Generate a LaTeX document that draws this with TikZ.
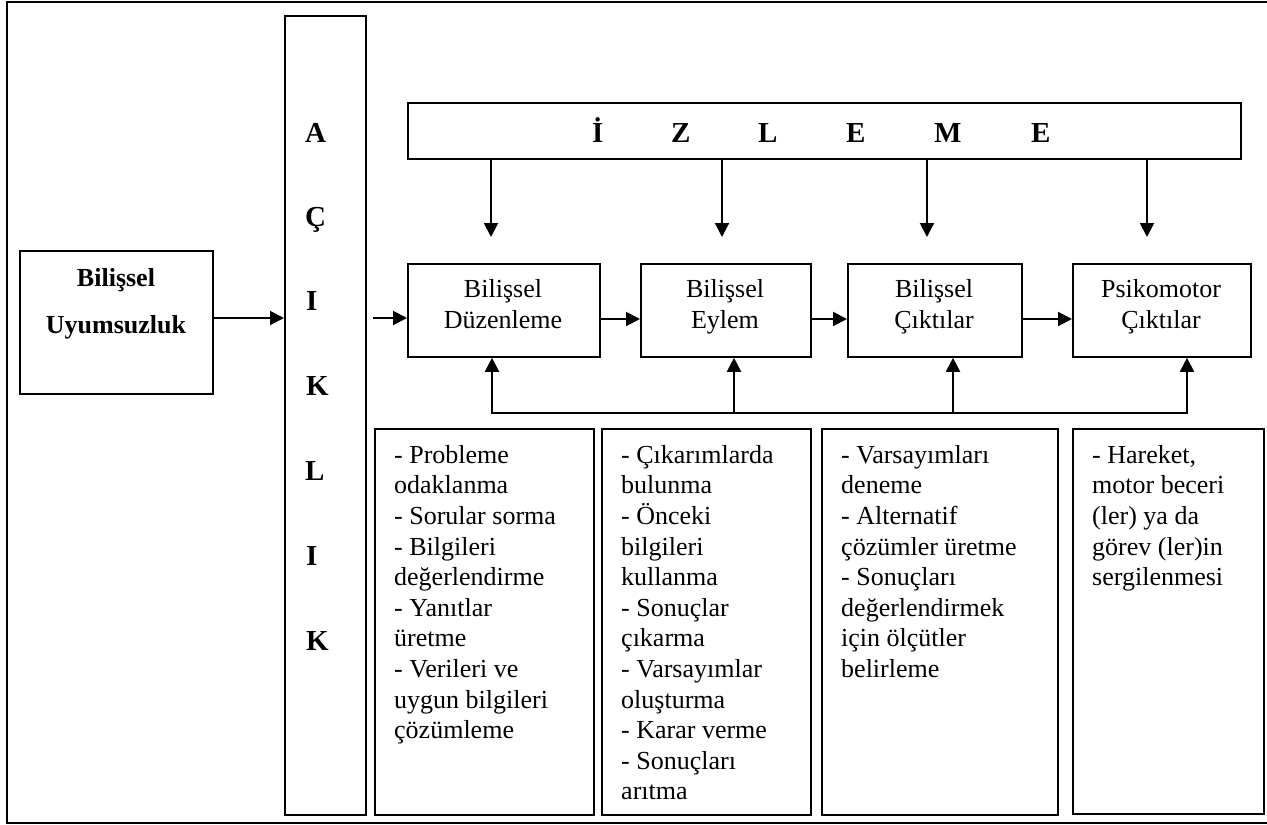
\documentclass[tikz,border=0pt]{standalone}
\usepackage{fontspec}
\setmainfont{Liberation Serif}
\usetikzlibrary{arrows.meta}
\begin{document}
\begin{tikzpicture}[x=1pt,y=-1pt,
  frame/.style={line width=1.8pt},
  box/.style={draw, line width=1.8pt, inner sep=0pt, anchor=north west},
  arr/.style={-{Triangle[length=14pt,width=14pt]}, line width=2pt},
  biarr/.style={{Triangle[length=14pt,width=14pt]}-{Triangle[length=14pt,width=14pt]}, line width=2pt},
  letter/.style={anchor=base west, inner sep=0pt, font=\fontsize{29}{34}\selectfont\bfseries},
  proctext/.style={anchor=north, inner sep=0pt, align=center, font=\fontsize{26}{31.5}\selectfont},
  listtext/.style={anchor=north west, inner sep=0pt, align=left, font=\fontsize{26}{30.6}\selectfont}]
\useasboundingbox (0,0) rectangle (1267,825);
% outer frame (right side cut off)
\draw[frame] (1267,2) -- (7,2) -- (7,823) -- (1267,823);

% boxes
\node[box, minimum width=193pt, minimum height=143pt] (bu) at (19,250) {};
\node[box, minimum width=81pt, minimum height=799pt] (ac) at (284,15) {};
\node[box, minimum width=833pt, minimum height=56pt] (iz) at (407,102) {};
\node[box, minimum width=192pt, minimum height=93pt] (b1) at (407,263) {};
\node[box, minimum width=170pt, minimum height=93pt] (b2) at (640,263) {};
\node[box, minimum width=174pt, minimum height=93pt] (b3) at (847,263) {};
\node[box, minimum width=178pt, minimum height=93pt] (b4) at (1072,263) {};
\node[box, minimum width=219pt, minimum height=386pt] (d1) at (374,428) {};
\node[box, minimum width=209pt, minimum height=386pt] (d2) at (601,428) {};
\node[box, minimum width=236pt, minimum height=386pt] (d3) at (821,428) {};
\node[box, minimum width=191pt, minimum height=385pt] (d4) at (1072,428) {};

% texts
\node[anchor=north, inner sep=0pt, align=center, font=\fontsize{26}{47}\selectfont\bfseries] (tu) at (116,253.1) {\strut Bilişsel\\Uyumsuzluk};

\node[letter] (a1) at (305,142) {A};
\node[letter] (a2) at (305,226) {Ç};
\node[letter] (a3) at (306,310) {I};
\node[letter] (a4) at (306,395) {K};
\node[letter] (a5) at (305,480) {L};
\node[letter] (a6) at (306,565) {I};
\node[letter] (a7) at (306,650) {K};

\node[letter] (z1) at (592,142) {İ};
\node[letter] (z2) at (671,142) {Z};
\node[letter] (z3) at (758,142) {L};
\node[letter] (z4) at (846,142) {E};
\node[letter] (z5) at (934,142) {M};
\node[letter] (z6) at (1031,142) {E};

\node[proctext] (t1) at (503,275) {\strut Bilişsel\\Düzenleme};
\node[proctext] (t2) at (725,275) {\strut Bilişsel\\Eylem};
\node[proctext] (t3) at (934,275) {\strut Bilişsel\\Çıktılar};
\node[proctext] (t4) at (1161,275) {\strut Psikomotor\\Çıktılar};

\node[listtext] (l1) at (394,441.6) {\strut - Probleme\\odaklanma\\- Sorular sorma\\- Bilgileri\\değerlendirme\\- Yanıtlar\\üretme\\- Verileri ve\\uygun bilgileri\\çözümleme};
\node[listtext] (l2) at (621,441.6) {\strut - Çıkarımlarda\\bulunma\\- Önceki\\bilgileri\\kullanma\\- Sonuçlar\\çıkarma\\- Varsayımlar\\oluşturma\\- Karar verme\\- Sonuçları\\arıtma};
\node[listtext] (l3) at (841,441.6) {\strut - Varsayımları\\deneme\\- Alternatif\\çözümler üretme\\- Sonuçları\\değerlendirmek\\için ölçütler\\belirleme};
\node[listtext] (l4) at (1092,441.6) {\strut - Hareket,\\motor beceri\\(ler) ya da\\görev (ler)in\\sergilenmesi};

% connectors
\coordinate (yA) at (0,318);
\coordinate (yB) at (0,319);
\draw[arr] (bu.east |- yA) -- (ac.west |- yA);
\coordinate (s1) at (373,318);
\draw[arr] (s1) -- (s1 -| b1.west);
\draw[arr] (b1.east |- yB) -- (b2.west |- yB);
\draw[arr] (b2.east |- yB) -- (b3.west |- yB);
\draw[arr] (b3.east |- yB) -- (b4.west |- yB);

\coordinate (e1) at (491,237);
\coordinate (e2) at (722,237);
\coordinate (e3) at (927,237);
\coordinate (e4) at (1147,237);
\draw[arr] (iz.south -| e1) -- (e1);
\draw[arr] (iz.south -| e2) -- (e2);
\draw[arr] (iz.south -| e3) -- (e3);
\draw[arr] (iz.south -| e4) -- (e4);

\coordinate (f1) at (492,413);
\coordinate (f2) at (734,413);
\coordinate (f3) at (953,413);
\coordinate (f4) at (1187,413);
\draw[biarr] (f1 |- b1.south) -- (f1) -- (f4) -- (f4 |- b4.south);
\draw[arr] (f2) -- (f2 |- b2.south);
\draw[arr] (f3) -- (f3 |- b3.south);
\end{tikzpicture}
\end{document}
